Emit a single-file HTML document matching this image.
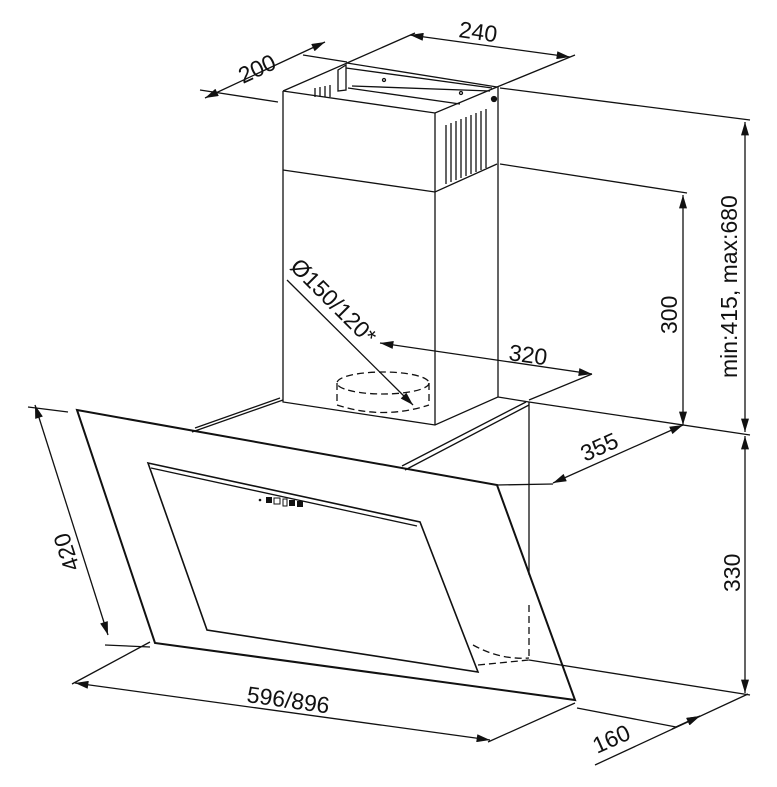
<!DOCTYPE html>
<html><head><meta charset="utf-8"><style>
html,body{margin:0;padding:0;background:#fff}
svg{display:block}
text{font-family:"Liberation Sans",sans-serif;font-size:23px;fill:#111}
</style></head><body>
<svg width="777" height="787" viewBox="0 0 777 787" xmlns="http://www.w3.org/2000/svg">
<defs>
<marker id="a" viewBox="0 0 10 6" refX="10" refY="3" markerWidth="14" markerHeight="8" markerUnits="userSpaceOnUse" orient="auto-start-reverse"><path d="M0,0L10,3L0,6z" fill="#111"/></marker>
</defs>
<g fill="none" stroke="#111" stroke-width="1.3">
<path d="M283,91 L435,113 L497,87"/>
<path d="M283,91 L347,63 L497,87"/>
<path d="M283,91 L283,402 L435,425 L498,397 L498,87"/>
<path d="M435,113 L435,425"/>
<path d="M283,170 L435,192 L497,164"/>
<path d="M338,70 L346,65 L346,90 L338,91 Z"/>
<path d="M346,68 L492,88 M348,88 L460,104 M352,86 L490,91"/>
<circle cx="384" cy="80" r="1.5"/><circle cx="461" cy="93" r="1.5"/>
<circle cx="494" cy="99" r="2.5" fill="#111"/>
<path d="M446,184 V125 M451,182 V123 M456,180 V121 M461,178 V119 M466,176 V117 M471,174 V115 M476,172 V113 M481,170 V111 M486,168 V109"/>
<path d="M315,97 V88 M320,97 V87 M325,97 V86 M330,97 V85"/>
<path d="M192,432 L283,400 M195,428 L280,398"/>
<path d="M402,466 L526,402 M405,470 L529,405"/>
<path d="M498,397 L529,402"/>
<path d="M529,402 V575"/>
<path d="M77,410 L497,485 L575,700 L155,643 Z" stroke-width="2"/>
<path d="M148,463 L420,522 L478,672 L207,630 Z" stroke-width="1.6"/>
<path d="M151,468 L417,526"/>
<g stroke-dasharray="7,4">
<ellipse cx="383" cy="383" rx="46" ry="11"/>
<path d="M337,383 V405 M429,383 V405"/>
<path d="M337,405 Q383,420 429,405"/>
<path d="M529,605 V658"/>
<path d="M473,645 Q500,660 529,658 M478,665 L529,660"/>
</g>
<path d="M205,98 L325,42" marker-start="url(#a)" marker-end="url(#a)"/>
<path d="M200,90 L278,102 M303,55 L347,62"/>
<path d="M410,35 L570,57" marker-start="url(#a)" marker-end="url(#a)"/>
<path d="M347,63 L415,33 M497,87 L575,55"/>
<path d="M500,88 L750,120"/>
<path d="M745,122 V432" marker-start="url(#a)" marker-end="url(#a)"/>
<path d="M745,436 V693" marker-start="url(#a)" marker-end="url(#a)"/>
<path d="M500,164 L687,193"/>
<path d="M683,195 V425" marker-start="url(#a)" marker-end="url(#a)"/>
<path d="M529,402 L750,435"/>
<path d="M553,483 L683,425" marker-start="url(#a)" marker-end="url(#a)"/>
<path d="M497,485 L553,484"/>
<path d="M380,343 L592,374" marker-start="url(#a)" marker-end="url(#a)"/>
<path d="M529,400 L592,374"/>
<path d="M287,280 L413,405" marker-end="url(#a)"/>
<path d="M529,660 L750,695"/>
<path d="M577,708 L676,727"/>
<path d="M595,765 L748,694"/>
<path d="M676,727 L700,716" marker-end="url(#a)"/>
<path d="M700,716 L672,729" marker-start="url(#a)"/>
<path d="M35,405 L108,635" marker-start="url(#a)" marker-end="url(#a)"/>
<path d="M28,407 L68,412 M105,645 L150,647"/>
<path d="M75,683 L490,740" marker-start="url(#a)" marker-end="url(#a)"/>
<path d="M72,684 L150,642 M488,742 L575,703"/>
</g>
<g fill="#111"><circle cx="260" cy="500" r="1.3"/><rect x="266" y="497" width="6" height="6"/><rect x="274" y="498" width="6" height="6" fill="none" stroke="#111"/><rect x="283" y="499" width="4" height="7" fill="none" stroke="#111"/><rect x="289" y="500" width="6" height="6"/><rect x="297" y="501" width="6" height="6"/></g>
<text transform="translate(243,84) rotate(-25)">200</text>
<text transform="translate(458,37) rotate(8)">240</text>
<text transform="translate(737,378) rotate(-90)">min:415, max:680</text>
<text transform="translate(677,334) rotate(-90)">300</text>
<text transform="translate(740,592) rotate(-90)">330</text>
<text transform="translate(508,360) rotate(8)">320</text>
<text transform="translate(585,462) rotate(-24)">355</text>
<text transform="translate(597,754) rotate(-24)">160</text>
<text transform="translate(80,568) rotate(-108)">420</text>
<text transform="translate(246,702) rotate(8)">596/896</text>
<text transform="translate(289,268) rotate(45)">Ø150/120*</text>
</svg>
</body></html>
